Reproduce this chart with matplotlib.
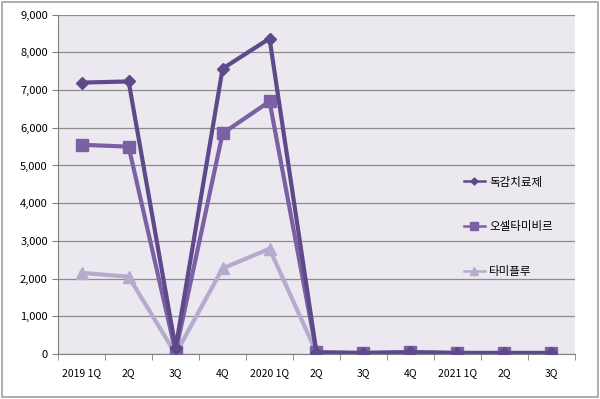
import numpy as np
import matplotlib.pyplot as plt
from matplotlib.patches import FancyBboxPatch

plt.rcParams['font.family'] = ['Noto Sans CJK KR', 'DejaVu Sans']

quarters = ['2019 1Q', '2Q', '3Q', '4Q', '2020 1Q', '2Q', '3Q', '4Q', '2021 1Q', '2Q', '3Q']
dokgam = [7200, 7230, 150, 7570, 8370, 30, 20, 40, 20, 20, 20]
oseltamivir = [5550, 5500, 50, 5850, 6700, 50, 30, 50, 30, 30, 30]
tamiflu = [2150, 2050, 0, 2270, 2790, 30, 20, 30, 20, 20, 20]

fig = plt.figure(figsize=(6, 3.99), dpi=100)
fig.patches.append(FancyBboxPatch((0.004, 0.006), 0.992, 0.988, boxstyle='square,pad=0',
                                  transform=fig.transFigure, fill=False,
                                  edgecolor='#a0a0a0', linewidth=1.2))
ax = fig.add_axes([0.097, 0.113, 0.861, 0.85])
ax.set_facecolor('#ebe8f0')

x = np.arange(len(quarters))
ax.plot(x, dokgam, color='#5e4a8a', lw=3, marker='D', ms=6, label='독감치료제', zorder=4)
ax.plot(x, oseltamivir, color='#7b61a3', lw=3, marker='s', ms=9, label='오셀타미비르', zorder=3)
ax.plot(x, tamiflu, color='#b4abcd', lw=3, marker='^', ms=9, label='타미플루', zorder=2)

ax.set_xlim(-0.5, len(quarters) - 0.5)
ax.set_ylim(0, 9000)
ax.set_yticks(np.arange(0, 9001, 1000))
ax.set_yticklabels([f'{v:,}' for v in range(0, 9001, 1000)], fontsize=8)
ax.set_xticks(x)
ax.set_xticklabels(quarters, fontsize=7.5)
ax.set_xticks(np.arange(-0.5, len(quarters)), minor=True)
ax.tick_params(axis='x', which='major', length=0, pad=10)
ax.tick_params(axis='x', which='minor', length=4, color='#808080')
ax.tick_params(axis='y', length=4, color='#808080')
ax.grid(axis='y', color='#8c8c8c', lw=0.9)
ax.set_axisbelow(True)
for s in ['top', 'right']:
    ax.spines[s].set_visible(False)
for s in ['left', 'bottom']:
    ax.spines[s].set_color('#808080')

leg = ax.legend(loc='center left', bbox_to_anchor=(0.765, 0.375), frameon=False,
                fontsize=8.3, labelspacing=2.75, handlelength=1.8, handletextpad=0.4,
                markerscale=0.6)
for ln in leg.get_lines():
    ln.set_linewidth(1.8)

fig.savefig('out.png', dpi=100)
